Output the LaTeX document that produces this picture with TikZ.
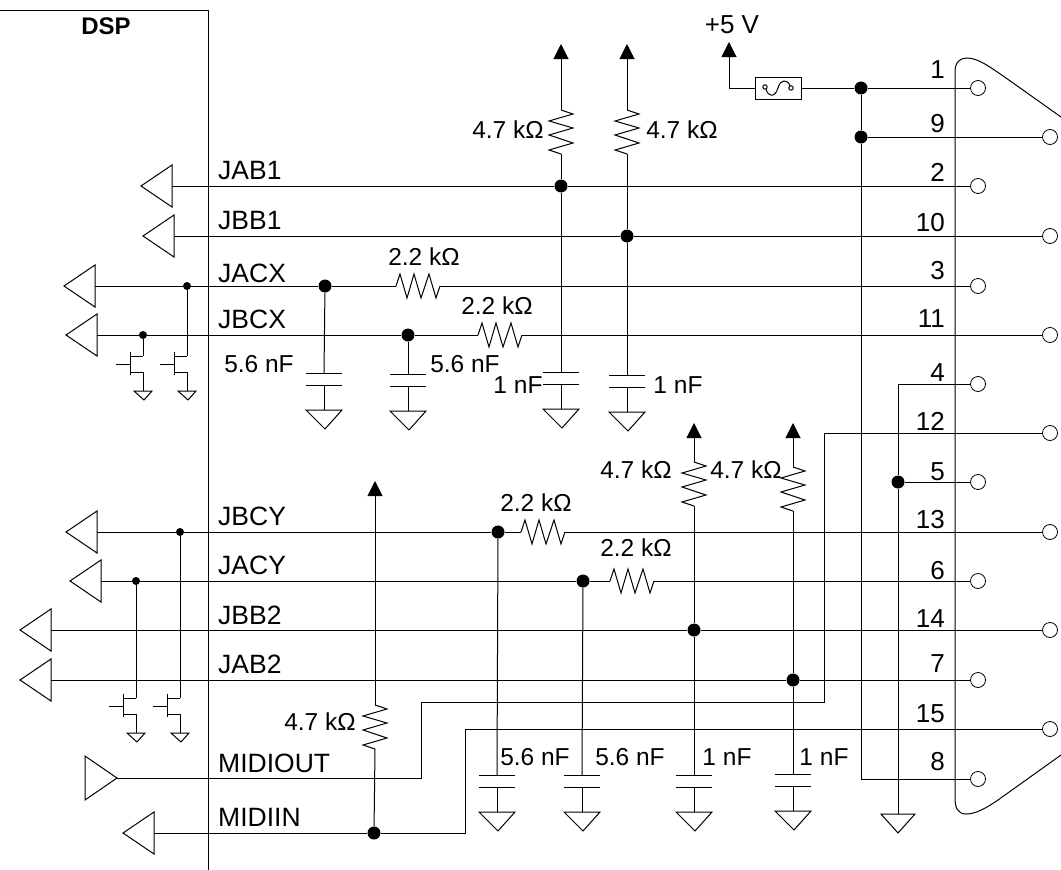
\documentclass[tikz,border=0pt]{standalone}
\usepackage{fontspec}
\setmainfont{Liberation Sans}
\usetikzlibrary{arrows.meta}
\tikzset{>={Triangle[length=15pt,width=15pt]}}
\tikzset{
  wire/.style={line width=1pt},
  pin/.style={draw,circle,fill=white,line width=0.8pt,minimum size=15pt,inner sep=0pt},
  dotbig/.style={circle,fill=black,minimum size=13pt,inner sep=0pt},
  dotsmall/.style={circle,fill=black,minimum size=8pt,inner sep=0pt},
  sig/.style={anchor=base west,inner sep=0pt,font=\fontsize{26.5}{28}\selectfont},
  val/.style={inner sep=0pt,font=\fontsize{24.5}{28}\selectfont},
  num/.style={anchor=base east,inner sep=0pt,font=\fontsize{26}{28}\selectfont},
  buffer/.pic={
    \draw[wire] (0,0) -- (31,-21) -- (31,21) -- cycle;
    \coordinate (-base) at (31,0);
  },
  bufferout/.pic={
    \draw[wire] (0,-22) -- (32,0) -- (0,22) -- cycle;
    \coordinate (-tip) at (32,0);
  },
  resistor/.pic={
    \draw[wire] (0,0) -- (4,-12) -- (11,12) -- (18,-12) -- (25,12) -- (33,-12) -- (40,12) -- (44,0);
    \coordinate (-a) at (0,0);
    \coordinate (-b) at (44,0);
  },
  capgnd/.pic={
    \draw[wire] (-18,0) -- (18,0);
    \draw[wire] (-18,12) -- (18,12);
    \draw[wire] (0,12) -- (0,37);
    \draw[wire] (-18,37) -- (18,37) -- (1,56) -- cycle;
    \coordinate (-top) at (0,0);
  },
  gnd/.pic={
    \draw[wire] (-17,0) -- (17,0) -- (0,19) -- cycle;
    \coordinate (-top) at (0,0);
  },
  fet/.pic={
    \draw[wire] (-13,-4) -- (-13,19);
    \draw[wire] (-27,8) -- (-13,8);
    \draw[wire] (0,0) -- (-13,0);
    \draw[wire] (-13,16) -- (0,16) -- (0,35);
    \draw[wire] (-9,35) -- (9,35) -- (1,44) -- cycle;
    \coordinate (-d) at (0,0);
  },
}
\begin{document}
\begin{tikzpicture}[x=1pt,y=-1pt]
\useasboundingbox (0,0) rectangle (1061,870);
% DSP edge
\coordinate (dspa) at (0,10);
\coordinate (dspb) at (208,10);
\coordinate (dspc) at (208,870);
\draw[wire] (dspa) -- (dspb) -- (dspc);
\node[inner sep=0pt,font=\fontsize{24}{26}\selectfont\bfseries] (dsp) at (106,26) {DSP};
% connector shell
\draw[wire] (1061,117) -- (1006,78) .. controls (990,67) and (978,58) .. (967,58) .. controls (960,58) and (955,62) .. (955,72) -- (955,798) .. controls (955,808) and (958,814) .. (966,814) .. controls (975,814) and (985,809) .. (998,800) -- (1061,755);
% pins
\foreach \n/\x/\y/\b in {1/978/88/78,9/1050/137/132,2/978/186/181,10/1050/236/231,3/978/286/279,11/1050/335/327,4/978/384/381,12/1050/433/430,5/978/482/480,13/1050/532/528,6/978/581/579,14/1050/630/627,7/978/680/672,15/1050/729/722,8/978/779/770}{
  \node[pin] (pin\n) at (\x,\y) {};
  \node[num] (num\n) at (945,\b) {\n};
}
% buffers
\pic (jab1) at (141,186) {buffer};
\pic (jbb1) at (143,236) {buffer};
\pic (jacx) at (64,286) {buffer};
\pic (jbcx) at (66,335) {buffer};
\pic (jbcy) at (66,532) {buffer};
\pic (jacy) at (70,581) {buffer};
\pic (jbb2) at (20,630) {buffer};
\pic (jab2) at (20,680) {buffer};
\pic (midiout) at (85,778) {bufferout};
\pic (midiin) at (123,833) {buffer};
% signal names
\foreach \t/\y in {JAB1/179,JBB1/229,JACX/282,JBCX/328,JBCY/525,JACY/574,JBB2/624,JAB2/673,MIDIOUT/772,MIDIIN/826}{
  \node[sig] (lab\t) at (218,\y) {\t};
}
% junctions
\foreach \n/\x/\y in {fa/861/88,fb/861/137,ja/561/186,jb/627/236,xa/325/286,xb/408/335,ya/498/532,yb/583/581,yc/694/630,yd/793/680,pf/898/482,mi/374/833}{
  \node[dotbig] (dot\n) at (\x,\y) {};
}
\foreach \n/\x/\y in {sa/187/286,sb/143/335,sc/180/532,sd/136/581}{
  \node[dotsmall] (dot\n) at (\x,\y) {};
}
% resistors
\pic[rotate=-90] (r1) at (561,110) {resistor};
\pic[rotate=-90] (r2) at (627,110) {resistor};
\pic (r3) at (396,286) {resistor};
\pic (r4) at (478,335) {resistor};
\pic (r5) at (521,532) {resistor};
\pic (r6) at (610,581) {resistor};
\pic[rotate=-90] (r7) at (694,462) {resistor};
\pic[rotate=-90] (r8) at (793,467) {resistor};
\pic[rotate=-90] (r9) at (375,705) {resistor};
\node[val] (v1) at (508,130) {4.7 kΩ};
\node[val] (v2) at (682,130) {4.7 kΩ};
\node[val] (v3) at (424,257) {2.2 kΩ};
\node[val] (v4) at (497,306) {2.2 kΩ};
\node[val] (v5) at (536,503) {2.2 kΩ};
\node[val] (v6) at (636,548) {2.2 kΩ};
\node[val] (v7) at (636,470) {4.7 kΩ};
\node[val] (v8) at (746,470) {4.7 kΩ};
\node[val] (v9) at (320,722) {4.7 kΩ};
% capacitors
\pic (c1) at (324,373) {capgnd};
\pic (c2) at (408,374) {capgnd};
\pic (c3) at (561,372) {capgnd};
\pic (c4) at (627,375) {capgnd};
\pic (c5) at (497,775) {capgnd};
\pic (c6) at (582,775) {capgnd};
\pic (c7) at (694,775) {capgnd};
\pic (c8) at (793,774) {capgnd};
\node[val] (w1) at (259,364) {5.6 nF};
\node[val] (w2) at (465,364) {5.6 nF};
\node[val] (w3) at (518,385) {1 nF};
\node[val] (w4) at (678,385) {1 nF};
\node[val] (w5) at (535,757) {5.6 nF};
\node[val] (w6) at (630,757) {5.6 nF};
\node[val] (w7) at (727,757) {1 nF};
\node[val] (w8) at (824,757) {1 nF};
% transistors
\pic (t1) at (143,356) {fet};
\pic (t2) at (187,356) {fet};
\pic (t3) at (136,698) {fet};
\pic (t4) at (180,698) {fet};
% fuse
\node[draw,wire,minimum width=46pt,minimum height=22pt,inner sep=0pt] (fuse) at (778,88) {};
\draw[wire] (765,87) circle (2.2pt);
\draw[wire] (791,88) circle (2.2pt);
\draw[wire] (766,89) .. controls (768,97) and (775,98) .. (778,88) .. controls (780,79) and (788,79) .. (790,86);
\node[inner sep=0pt,font=\fontsize{26}{28}\selectfont] (plus) at (732,25) {+5 V};
% free ends
\coordinate (up5) at (729,42);
\coordinate (bend5) at (729,88);
\coordinate (up1) at (561,44);
\coordinate (up2) at (627,44);
\coordinate (up7) at (694,423);
\coordinate (up8) at (793,423);
\coordinate (up9) at (375,481);
\coordinate (g4top) at (898,384);
\coordinate (moa) at (421,778);
\coordinate (mob) at (421,702);
\coordinate (moc) at (824,702);
\coordinate (mod) at (824,433);
\coordinate (mia) at (465,833);
\coordinate (mib) at (465,729);
\coordinate (pin8in) at (861,779);
\pic (g5) at (898,814) {gnd};
% supply
\draw[wire,->] (fuse) -- (bend5) -- (up5);
\draw[wire] (fuse) -- (dotfa) -- (pin1);
\draw[wire] (dotfa) -- (dotfb) -- (pin8in) -- (pin8);
\draw[wire] (dotfb) -- (pin9);
\draw[wire] (pin4) -- (g4top) -- (dotpf) -- (g5-top);
\draw[wire] (dotpf) -- (pin5);
% signals
\draw[wire] (jab1-base) -- (dotja) -- (pin2);
\draw[wire] (jbb1-base) -- (dotjb) -- (pin10);
\draw[wire] (jacx-base) -- (dotsa) -- (dotxa) -- (r3-a);
\draw[wire] (r3-b) -- (pin3);
\draw[wire] (jbcx-base) -- (dotsb) -- (dotxb) -- (r4-a);
\draw[wire] (r4-b) -- (pin11);
\draw[wire] (jbcy-base) -- (dotsc) -- (dotya) -- (r5-a);
\draw[wire] (r5-b) -- (pin13);
\draw[wire] (jacy-base) -- (dotsd) -- (dotyb) -- (r6-a);
\draw[wire] (r6-b) -- (pin6);
\draw[wire] (jbb2-base) -- (dotyc) -- (pin14);
\draw[wire] (jab2-base) -- (dotyd) -- (pin7);
\draw[wire] (midiout-tip) -- (moa) -- (mob) -- (moc) -- (mod) -- (pin12);
\draw[wire] (midiin-base) -- (dotmi) -- (mia) -- (mib) -- (pin15);
% pull ups and caps
\draw[wire,->] (r1-a) -- (up1);
\draw[wire,->] (r2-a) -- (up2);
\draw[wire,->] (r7-a) -- (up7);
\draw[wire,->] (r8-a) -- (up8);
\draw[wire,->] (r9-a) -- (up9);
\draw[wire] (r1-b) -- (dotja) -- (c3-top);
\draw[wire] (r2-b) -- (dotjb) -- (c4-top);
\draw[wire] (r7-b) -- (dotyc) -- (c7-top);
\draw[wire] (r8-b) -- (dotyd) -- (c8-top);
\draw[wire] (r9-b) -- (dotmi);
\draw[wire] (dotxa) -- (c1-top);
\draw[wire] (dotxb) -- (c2-top);
\draw[wire] (dotya) -- (c5-top);
\draw[wire] (dotyb) -- (c6-top);
% gates
\draw[wire] (dotsa) -- (t2-d);
\draw[wire] (dotsb) -- (t1-d);
\draw[wire] (dotsc) -- (t4-d);
\draw[wire] (dotsd) -- (t3-d);
\end{tikzpicture}
\end{document}
